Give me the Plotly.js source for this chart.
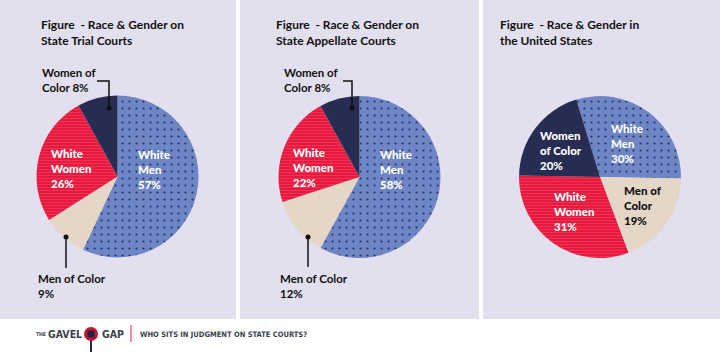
<!DOCTYPE html>
<html>
<head>
<meta charset="utf-8">
<script src="https://cdn.plot.ly/plotly-3.0.1.min.js"></script>
<style>html,body{margin:0;padding:0;background:#fff;}#chart{width:720px;height:359px;}</style>
</head>
<body>
<div id="chart"></div>
<script>
// ---- data ----
const categories = ['White Men', 'Men of Color', 'White Women', 'Women of Color'];
const trialValues = [57, 9, 26, 8];
const appellateValues = [58, 12, 22, 8];
const usValues = [30, 19, 31, 20];
const panelTitles = [
  ['Figure\u00a0 - Race & Gender on', 'State Trial Courts'],
  ['Figure\u00a0 - Race & Gender on', 'State Appellate Courts'],
  ['Figure\u00a0 - Race & Gender in', 'the United States']
];
const footerBrand = ['THE', 'GAVEL', 'GAP'];
const footerTagline = 'WHO SITS IN JUDGMENT ON STATE COURTS?';

// ---- styles / layout ----
const W = 720, H = 359;
const sliceColors = ['#6f86c6', '#e4d7c7', '#e8193f', '#272c52'];
const patternShapes = ['.', '', '-', ''];
const patternFg = ['#27305e', '#e4d7c7', '#ee3658', '#272c52'];
const patternSize = [7, 8, 3, 8];
const patternSolid = [0.08, 0.3, 0.3, 0.3];
const panelBg = '#e2dfee';
const panels = [[0, 236], [240, 479], [483, 720]];
const panelBottom = 319;
const pieCenters = [[117.5, 176.5], [359.5, 177], [600, 177]];
const pieR = 81;

const X = px => px / W;
const Y = py => 1 - py / H;

// label placement: [slice index, line templates, left x, vertical centre y, colour, inside/outside]
const labelSpecs = [
  [
    [0, ['White', 'Men', '{v}%'], 137, 170, '#fff', 'in'],
    [2, ['White', 'Women', '{v}%'], 50, 168, '#fff', 'in'],
    [3, ['Women of', 'Color {v}%'], 41, 80, '#111', 'out'],
    [1, ['Men of Color', '{v}%'], 37, 286, '#111', 'out']
  ],
  [
    [0, ['White', 'Men', '{v}%'], 379, 170, '#fff', 'in'],
    [2, ['White', 'Women', '{v}%'], 292, 167, '#fff', 'in'],
    [3, ['Women of', 'Color {v}%'], 283, 80, '#111', 'out'],
    [1, ['Men of Color', '{v}%'], 279, 286, '#111', 'out']
  ],
  [
    [3, ['Women', 'of Color', '{v}%'], 539, 150, '#fff', 'in'],
    [0, ['White', 'Men', '{v}%'], 610, 143, '#fff', 'in'],
    [1, ['Men of', 'Color', '{v}%'], 623, 205, '#111', 'in'],
    [2, ['White', 'Women', '{v}%'], 553, 211, '#fff', 'in']
  ]
];
// leader lines: [dot, path points]
const leaders = [
  [[109, 108], [[109, 108], [109, 81], [97, 81]]],
  [[66, 237], [[66, 237], [66, 268]]],
  [[352, 108], [[352, 108], [352, 81], [343, 81]]],
  [[308, 237], [[308, 237], [308, 267]]]
];

const seriesValues = [trialValues, appellateValues, usValues];
const rotations = [0, 0, -17];

const traces = seriesValues.map((vals, k) => {
  const [cx, cy] = pieCenters[k];
  return {
    type: 'pie',
    labels: categories,
    values: vals,
    sort: false,
    direction: 'clockwise',
    rotation: rotations[k],
    textinfo: 'none',
    hoverinfo: 'label+percent',
    showlegend: false,
    domain: { x: [X(cx - pieR), X(cx + pieR)], y: [Y(cy + pieR), Y(cy - pieR)] },
    marker: {
      colors: sliceColors,
      line: { width: 0 },
      pattern: {
        shape: patternShapes,
        fgcolor: patternFg,
        bgcolor: sliceColors,
        size: patternSize,
        solidity: patternSolid,
        fillmode: 'replace'
      }
    }
  };
});

const annotations = [];
const shapes = [];

// panel backgrounds
panels.forEach(([x0, x1]) => {
  shapes.push({ type: 'rect', xref: 'paper', yref: 'paper', x0: X(x0), x1: X(x1), y0: Y(panelBottom), y1: Y(0),
    fillcolor: panelBg, line: { width: 0 }, layer: 'below' });
});

function addText(lines, x, yc, font) {
  annotations.push({ xref: 'paper', yref: 'paper', x: X(x), y: Y(yc), xanchor: 'left', yanchor: 'middle',
    showarrow: false, text: lines.join('<br>'), font: font, align: 'left', borderpad: 0 });
}

// titles
const titleX = [40, 275, 499];
panelTitles.forEach((lines, k) => {
  addText(lines, titleX[k], 33, { family: 'Lato, sans-serif', size: 12, weight: 700, color: '#111' });
});

// slice labels
labelSpecs.forEach((specs, k) => {
  specs.forEach(([idx, tpl, x, y, color, pos]) => {
    const lines = tpl.map(t => t.replace('{v}', seriesValues[k][idx]));
    const font = pos === 'in'
      ? { family: 'Lato, sans-serif', size: 11.5, weight: 900, color: color }
      : { family: 'Lato, sans-serif', size: 11.5, weight: 700, color: color };
    addText(lines, x, y, font);
  });
});

// leader lines
leaders.forEach(([dot, pts]) => {
  const path = pts.map((p, i) => (i ? 'L' : 'M') + X(p[0]) + ',' + Y(p[1])).join(' ');
  shapes.push({ type: 'path', xref: 'paper', yref: 'paper', path: path, line: { color: '#111', width: 1.5 } });
  shapes.push({ type: 'circle', xref: 'paper', yref: 'paper', x0: X(dot[0] - 2.5), x1: X(dot[0] + 2.5),
    y0: Y(dot[1] + 2.5), y1: Y(dot[1] - 2.5), fillcolor: '#111', line: { width: 0 } });
});

// footer
const brandFont = { family: '"DejaVu Sans Condensed", "DejaVu Sans", sans-serif', weight: 700, color: '#3a3f4f' };
function footText(t, x, size) {
  annotations.push({ xref: 'paper', yref: 'paper', x: X(x), y: Y(334), xanchor: 'left', yanchor: 'middle', showarrow: false,
    text: t, font: Object.assign({}, brandFont, { size: size }), borderpad: 0 });
}
footText(footerBrand[0], 35, 5);
footText(footerBrand[1], 47, 10.5);
footText(footerBrand[2], 101, 10.5);
footText(footerTagline, 139, 7.5);
// gavel icon
shapes.push({ type: 'line', xref: 'paper', yref: 'paper', x0: X(91), x1: X(91), y0: Y(339), y1: Y(352), line: { color: '#1f2347', width: 2 } });
shapes.push({ type: 'circle', xref: 'paper', yref: 'paper', x0: X(84), x1: X(98), y0: Y(341), y1: Y(327), fillcolor: '#c8172f', line: { width: 0 } });
shapes.push({ type: 'rect', xref: 'paper', yref: 'paper', x0: X(87.5), x1: X(94.5), y0: Y(337.5), y1: Y(330.5), fillcolor: '#1f2347', line: { width: 0 } });
shapes.push({ type: 'line', xref: 'paper', yref: 'paper', x0: X(131), x1: X(131), y0: Y(342), y1: Y(325), line: { color: '#f0627f', width: 1.5 } });

const layout = {
  width: W, height: H,
  margin: { l: 0, r: 0, t: 0, b: 0 },
  paper_bgcolor: '#ffffff',
  plot_bgcolor: '#ffffff',
  showlegend: false,
  shapes: shapes,
  annotations: annotations
};

Plotly.newPlot('chart', traces, layout, { displayModeBar: false, staticPlot: true });
</script>
</body>
</html>
